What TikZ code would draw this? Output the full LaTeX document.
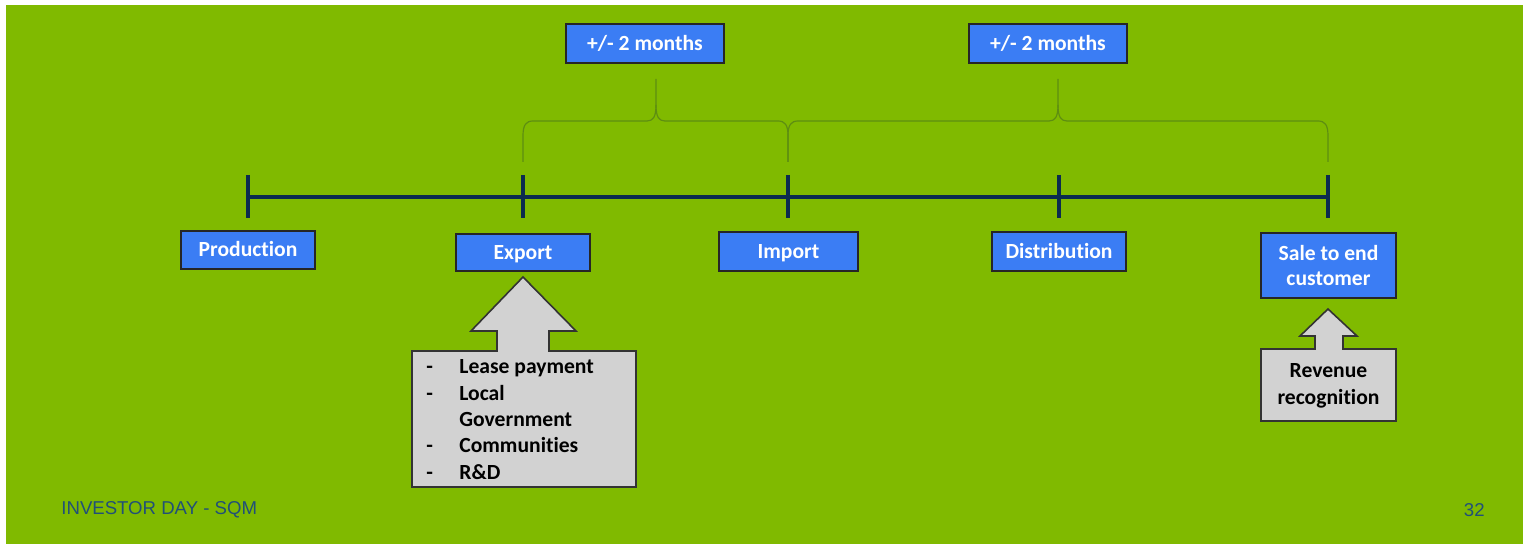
\documentclass[tikz,border=0pt]{standalone}
\usepackage{fontspec}
\setmainfont{Carlito}[Ligatures=NoCommon]
\newfontfamily\arialf{Liberation Sans}
\definecolor{bg}{HTML}{80BA00}
\definecolor{boxblue}{HTML}{3B7DF4}
\definecolor{navy}{HTML}{0B2B4F}
\definecolor{bracec}{HTML}{5E8E12}
\definecolor{grayfill}{HTML}{D2D2D2}
\definecolor{footc}{HTML}{215078}
\begin{document}
\begin{tikzpicture}[x=0.5pt,y=-0.5pt,
  bluebox/.style={draw=black!85, line width=0.9pt, fill=boxblue, text=white,
    font=\bfseries\fontsize{10.8}{12.9}\selectfont, inner sep=0pt, align=center},
  oneline/.style={text height=6.96pt, text depth=0pt},
  tl/.style={navy, line width=2pt},
  brc/.style={bracec, line width=0.6pt},
  callout/.style={draw=black!80, line width=0.8pt, fill=grayfill, line join=miter},
  calltext/.style={font=\bfseries\fontsize{10.8}{13.2}\selectfont, text=black, inner sep=0pt},
  foot/.style={font=\arialf\fontsize{9.3}{11}\selectfont, text=footc, inner sep=0pt}]
\useasboundingbox (0,0) rectangle (1523,544);
\fill[white] (0,0) rectangle (1523,544);
\fill[bg] (6,5) rectangle (1523,544);
% timeline
\coordinate (t1) at (248,197);
\coordinate (t2) at (523,197);
\coordinate (t3) at (788,197);
\coordinate (t4) at (1059,197);
\coordinate (t5) at (1328,197);
\draw[tl] (t1) -- (t5);
\foreach \t in {t1,t2,t3,t4,t5}{
  \draw[tl] ([yshift=11pt]\t) -- ([yshift=-10.5pt]\t);
}
% braces
\draw[brc] (523,162) -- (523,136) .. controls (523,125) and (526,121) .. (533,121)
  -- (647,121) .. controls (653,121) and (656,117) .. (656,105) -- (656,79);
\draw[brc] (788,162) -- (788,136) .. controls (788,125) and (785,121) .. (778,121)
  -- (665,121) .. controls (659,121) and (656,117) .. (656,105);
\draw[brc] (788,162) -- (788,136) .. controls (788,125) and (791,121) .. (798,121)
  -- (1049,121) .. controls (1055,121) and (1058,117) .. (1058,105) -- (1058,79);
\draw[brc] (1328,162) -- (1328,136) .. controls (1328,125) and (1325,121) .. (1318,121)
  -- (1067,121) .. controls (1061,121) and (1058,117) .. (1058,105);
% top boxes
\node[bluebox, oneline, minimum width=79pt, minimum height=19.5pt] (m1) at (645,43.5) {+/- 2 months};
\node[bluebox, oneline, minimum width=79pt, minimum height=19.5pt] (m2) at (1048,43.5) {+/- 2 months};
% stage boxes
\node[bluebox, oneline, minimum width=67pt, minimum height=19pt] (prod) at (248,250) {Production};
\node[bluebox, oneline, minimum width=67pt, minimum height=18.5pt] (exp) at (523,252.5) {Export};
\node[bluebox, oneline, minimum width=69.5pt, minimum height=19.5pt] (imp) at (788.5,251.5) {Import};
\node[bluebox, oneline, minimum width=67pt, minimum height=19.5pt] (dist) at (1059,251.5) {Distribution};
\node[bluebox, minimum width=67.5pt, minimum height=32.5pt] (sale) at (1328.5,265.5) {Sale to end\\customer};
% export callout
\draw[callout] (412,351) -- (497,351) -- (497,331) -- (471,331) -- (523,277) -- (576,331)
  -- (549,331) -- (549,351) -- (636,351) -- (636,487) -- (412,487) -- cycle;
\node[calltext, anchor=west, align=left] (lease) at (426,419.5)
  {\makebox[16.5pt][l]{-}Lease payment\\
   \makebox[16.5pt][l]{-}Local\\
   \hspace*{16.5pt}Government\\
   \makebox[16.5pt][l]{-}Communities\\
   \makebox[16.5pt][l]{-}R\&D};
% sale callout
\draw[callout] (1261,349) -- (1315,349) -- (1315,336) -- (1300,336) -- (1328,309) -- (1357,336)
  -- (1343,336) -- (1343,349) -- (1396,349) -- (1396,421) -- (1261,421) -- cycle;
\node[calltext, align=center, font=\bfseries\fontsize{10.8}{13.5}\selectfont] (rev) at (1328.5,385.5) {Revenue\\recognition};
% footer
\node[foot, anchor=west] (inv) at (61,510) {INVESTOR DAY - SQM};
\node[foot, anchor=east] (pg) at (1485,510) {32};
\end{tikzpicture}
\end{document}
